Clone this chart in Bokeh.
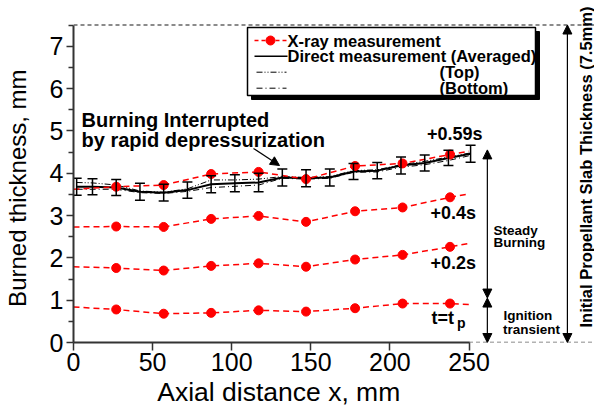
import numpy as np
from bokeh.plotting import figure
from bokeh.models import (ColumnDataSource, Range1d, FixedTicker, Whisker, TeeHead,
                          Arrow, NormalHead, Label)
from bokeh.embed import file_html
from bokeh.resources import INLINE

# ---------------- data ----------------
x_xray = [0, 27, 57, 87, 117, 147, 178, 208, 238, 250]
xray_tp = [0.84, 0.78, 0.68, 0.70, 0.76, 0.73, 0.81, 0.92, 0.92, 0.90]
xray_02 = [1.79, 1.76, 1.70, 1.81, 1.87, 1.79, 1.96, 2.07, 2.26, 2.34]
xray_04 = [2.73, 2.74, 2.73, 2.92, 2.99, 2.85, 3.10, 3.19, 3.43, 3.51]
xray_059 = [3.62, 3.68, 3.72, 3.98, 4.03, 3.86, 4.17, 4.23, 4.44, 4.52]

x_direct = [2, 12, 27, 42, 57, 72, 87, 102, 117, 132, 147, 162, 177, 192, 207, 222, 237, 251]
direct_avg = [3.68, 3.68, 3.66, 3.56, 3.54, 3.60, 3.74, 3.76, 3.78, 3.90, 3.88, 3.90,
              4.04, 4.06, 4.18, 4.24, 4.36, 4.46]
direct_top = [3.78, 3.77, 3.72, 3.58, 3.55, 3.63, 3.84, 3.84, 3.86, 3.92, 3.90, 3.92,
              4.06, 4.08, 4.20, 4.28, 4.38, 4.48]
direct_bottom = [3.62, 3.62, 3.62, 3.54, 3.52, 3.57, 3.66, 3.69, 3.72, 3.88, 3.86, 3.88,
                 4.02, 4.03, 4.14, 4.20, 4.30, 4.42]
direct_err = [0.20, 0.19, 0.19, 0.20, 0.20, 0.19, 0.20, 0.20, 0.22, 0.20, 0.20, 0.20,
              0.19, 0.19, 0.20, 0.19, 0.18, 0.20]

x_ticks = [0, 50, 100, 150, 200, 250]
y_ticks = [0, 1, 2, 3, 4, 5, 6, 7]
y_minor = [0.5, 1.5, 2.5, 3.5, 4.5, 5.5, 6.5, 7.5]
slab_thickness = 7.5
phase_split = 1.05
steady_top = 4.55
x_phase = 261.6
x_slab = 312.2

FONT = "Liberation Sans"
RED = "#ff0000"
NBSP = "\u00a0"

# ---------------- figure / layout ----------------
W, H = 594, 410
FRAME_L, BORDER_B = 73, 68
FRAME_B = H - BORDER_B
X_SCALE = 1.582      # px per mm
Y_SCALE = 42.33      # px per mm (vertical)
X_END = (W - FRAME_L) / X_SCALE
Y_END = FRAME_B / Y_SCALE

p = figure(width=W, height=H, x_range=Range1d(0, X_END), y_range=Range1d(0, Y_END),
           output_backend="svg", toolbar_location=None,
           min_border_left=FRAME_L, min_border_right=0, min_border_top=0,
           min_border_bottom=BORDER_B)
p.xgrid.visible = False
p.ygrid.visible = False
p.outline_line_color = None
p.background_fill_color = "white"

# page pixel -> data helpers (for decorations only)
def dx(px):
    return (px - FRAME_L) / X_SCALE

def dy(py):
    return (FRAME_B - py) / Y_SCALE

for ax in (p.xaxis, p.yaxis):
    ax.axis_line_color = "#333333"
    ax.axis_line_width = 2
    ax.major_tick_line_color = "#333333"
    ax.major_tick_line_width = 1.5
    ax.major_tick_in = 0
    ax.major_label_text_font = FONT
    ax.major_label_text_font_size = "25px"
    ax.major_label_text_color = "black"
    ax.axis_label_text_font = FONT
    ax.axis_label_text_font_style = "normal"
    ax.axis_label_text_color = "black"

p.xaxis.bounds = (0, 250)
p.xaxis.ticker = FixedTicker(ticks=x_ticks)
p.xaxis.major_tick_out = 8
p.xaxis.minor_tick_line_color = None
p.xaxis.major_label_standoff = 2
# trailing no-break spaces shift the centred title over the 0-250 span, as in the reference
p.xaxis.axis_label = "Axial distance x, mm" + NBSP * 15
p.xaxis.axis_label_text_font_size = "26.5px"
p.xaxis.axis_label_standoff = 3

p.yaxis.bounds = (0, slab_thickness)
p.yaxis.ticker = FixedTicker(ticks=y_ticks, minor_ticks=y_minor)
p.yaxis.major_tick_out = 7
p.yaxis.minor_tick_out = 5
p.yaxis.minor_tick_in = 0
p.yaxis.minor_tick_line_color = "#333333"
p.yaxis.minor_tick_line_width = 1.5
p.yaxis.major_label_standoff = 3
p.yaxis.axis_label = "Burned thickness, mm" + NBSP * 5
p.yaxis.axis_label_text_font_size = "24px"
p.yaxis.axis_label_standoff = 16

# ---------------- reference dashed lines ----------------
p.line([0, X_END], [slab_thickness, slab_thickness], line_color="#666666",
       line_dash="4 3", line_width=1.5)
p.line([250, X_END], [0, 0], line_color="#666666", line_dash="4 3", line_width=1.5)

# ---------------- direct measurements ----------------
src_d = ColumnDataSource(dict(
    x=x_direct, avg=direct_avg, top=direct_top, bottom=direct_bottom,
    upper=[a + e for a, e in zip(direct_avg, direct_err)],
    lower=[a - e for a, e in zip(direct_avg, direct_err)]))
p.line("x", "top", source=src_d, line_color="black", line_width=1, line_dash="6 2 1 2 1 2")
p.line("x", "bottom", source=src_d, line_color="black", line_width=1, line_dash="6 3 1 3")
p.line("x", "avg", source=src_d, line_color="black", line_width=2)
p.add_layout(Whisker(base="x", upper="upper", lower="lower", source=src_d,
                     line_color="black", line_width=1.5, level="glyph",
                     upper_head=TeeHead(size=10, line_width=1.5, line_color="black"),
                     lower_head=TeeHead(size=10, line_width=1.5, line_color="black")))

# ---------------- X-ray measurements ----------------
for ys in (xray_tp, xray_02, xray_04, xray_059):
    p.line(x_xray, ys, line_color=RED, line_width=1.5, line_dash="6 4")
    p.scatter(x_xray[1:-1], ys[1:-1], size=9, marker="circle",
              fill_color=RED, line_color=RED)

# ---------------- arrows ----------------
def head():
    return NormalHead(size=9, fill_color="black", line_color="black", line_width=1)

p.add_layout(Arrow(x_start=x_phase, y_start=phase_split, x_end=x_phase, y_end=steady_top,
                   start=head(), end=head(), line_width=1.2, line_color="black"))
p.add_layout(Arrow(x_start=x_phase, y_start=phase_split, x_end=x_phase, y_end=0,
                   start=head(), end=head(), line_width=1.2, line_color="black"))
p.add_layout(Arrow(x_start=x_slab, y_start=0, x_end=x_slab, y_end=slab_thickness,
                   start=head(), end=head(), line_width=1.2, line_color="black"))
p.add_layout(Arrow(x_start=dx(253), y_start=dy(148), x_end=dx(279), y_end=dy(165),
                   end=head(), line_width=1.2, line_color="black"))

# ---------------- text annotations (y = vertical centre of the text) ----------------
def lab(x, y, text, size, align="left", angle=0, bold=True):
    p.add_layout(Label(x=x, y=y, text=text, text_font=FONT, text_font_size=size,
                       text_font_style="bold" if bold else "normal", text_color="black",
                       text_align=align, text_baseline="middle", angle=angle))

lab(dx(81), dy(119.5), "Burning Interrupted", "20px")
lab(dx(81), dy(139.7), "by rapid depressurization", "20px")
lab(dx(426.5), dy(133), "+0.59s", "18px")
lab(dx(430), dy(212.7), "+0.4s", "18px")
lab(dx(430), dy(262.5), "+0.2s", "18px")
lab(dx(431), dy(317.7), "t=t", "18px")
lab(dx(456.5), dy(322.5), "p", "14px")
lab(dx(493), dy(229.5), "Steady", "13.5px")
lab(dx(493), dy(242), "Burning", "13.5px")
lab(dx(503), dy(315), "Ignition", "13.5px")
lab(dx(502.5), dy(328.5), "transient", "13.5px")
lab(dx(585.5), dy(166.5), "Initial Propellant Slab Thickness (7.5mm)", "16.5px",
    align="center", angle=np.pi / 2)

# ---------------- legend (manual, boxed with shadow) ----------------
p.quad(left=[dx(251)], right=[dx(539)], top=[dy(31)], bottom=[dy(99)],
       fill_color="black", line_color="black")
p.quad(left=[dx(247)], right=[dx(535)], top=[dy(27)], bottom=[dy(95)],
       fill_color="white", line_color="black", line_width=1.5)
rows = [40, 55.7, 71.7, 87.7]
p.line([dx(254), dx(286)], [dy(rows[0])] * 2, line_color=RED, line_width=1.5, line_dash="4 3")
p.scatter([dx(270)], [dy(rows[0])], size=9, fill_color=RED, line_color=RED)
p.line([dx(254), dx(287)], [dy(rows[1])] * 2, line_color="black", line_width=1.5)
p.line([dx(256), dx(286)], [dy(rows[2])] * 2, line_color="black", line_width=1,
       line_dash="6 2 1 2 1 2")
p.line([dx(256), dx(286)], [dy(rows[3])] * 2, line_color="black", line_width=1,
       line_dash="6 3 1 3")
lab(dx(287), dy(rows[0]), "X-ray measurement", "16.5px")
lab(dx(287), dy(rows[1]), "Direct measurement (Averaged)", "16.5px")
lab(dx(439), dy(rows[2]), "(Top)", "16.5px")
lab(dx(439), dy(rows[3]), "(Bottom)", "16.5px")

open("out.html", "w").write(file_html(p, INLINE))
